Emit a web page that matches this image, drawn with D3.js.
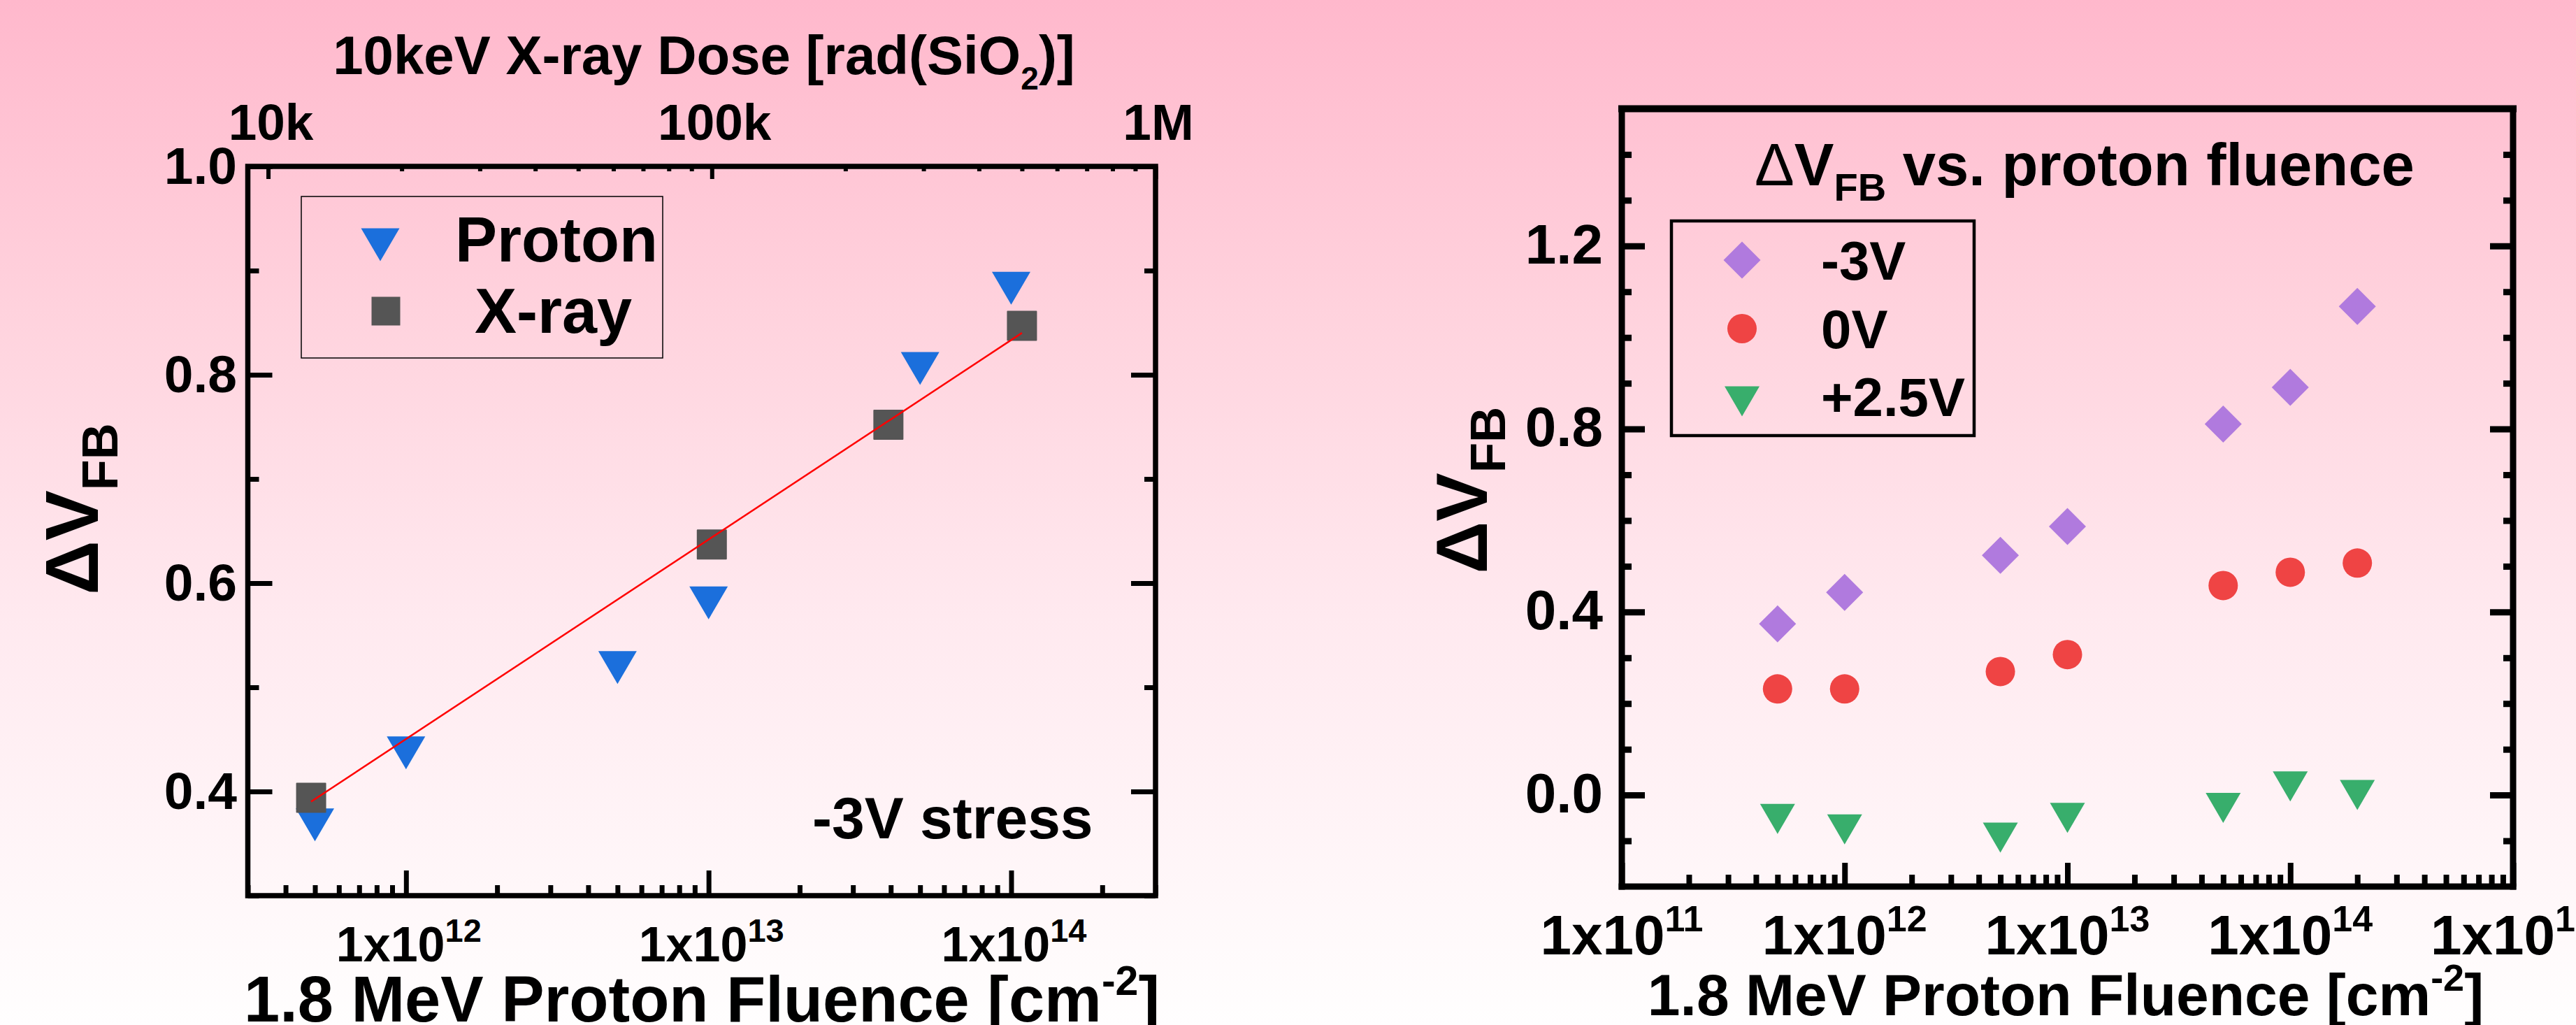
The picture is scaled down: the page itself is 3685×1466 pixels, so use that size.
<!DOCTYPE html>
<html>
<head>
<meta charset="utf-8">
<script src="https://cdn.jsdelivr.net/npm/d3@7"></script>
<style>
  body { margin: 0; }
  svg { display: block; }
  text { font-family: "Liberation Sans", Arial, sans-serif; font-weight: bold; fill: #000; }
</style>
</head>
<body>
<svg id="chart" width="3685" height="1466"></svg>
<script>
// ---- left panel: proton vs x-ray, -3V stress ----
const protonFluence = [5e11, 1e12, 5e12, 1e13, 5e13, 1e14];
const protonDVfb = [0.368, 0.437, 0.519, 0.581, 0.806, 0.883];
const xrayDose = [12500, 100000, 250000, 500000];
const xrayDVfb = [0.394, 0.637, 0.752, 0.847];
const leftFluenceTicks = [1e12, 1e13, 1e14];
const doseTicks = [1e4, 1e5, 1e6];
const doseTickLabels = ["10k", "100k", "1M"];
const leftYTicks = [0.4, 0.6, 0.8, 1.0];

// ---- right panel: bias dependence ----
const biasFluence = [5e11, 1e12, 5e12, 1e13, 5e13, 1e14, 2e14];
const dvMinus3V = [0.374, 0.443, 0.524, 0.587, 0.811, 0.891, 1.068];
const dv0V = [0.232, 0.232, 0.270, 0.307, 0.458, 0.487, 0.507];
const dvPlus2p5V = [-0.052, -0.075, -0.093, -0.050, -0.028, 0.019, 0.0];
const biasNames = ["-3V", "0V", "+2.5V"];
const rightFluenceTicks = [1e11, 1e12, 1e13, 1e14, 1e15];
const rightYTicks = [0.0, 0.4, 0.8, 1.2];

const svg = d3.select("#chart");

// pink -> white page background
const grad = svg.append("defs").append("linearGradient")
    .attr("id", "bg").attr("x1", 0).attr("y1", 0).attr("x2", 0).attr("y2", 1);
[[0, "#ffb8cc"], [0.3, "#ffd2dd"], [0.6, "#ffe9ef"], [1, "#fffefe"]]
    .forEach(s => grad.append("stop").attr("offset", s[0]).attr("stop-color", s[1]));
svg.append("rect").attr("width", 3685).attr("height", 1466).attr("fill", "url(#bg)");

// text with sub/superscript pieces
function rich(sel, parts) {
    parts.forEach(p => {
        const t = sel.append("tspan").text(p.t);
        if (p.size) t.attr("font-size", p.size);
        if (p.dy) t.attr("dy", p.dy);
        if (p.weight) t.attr("font-weight", p.weight);
    });
    return sel;
}

function markerPath(shape, a, b) {
    if (shape === "triDown") return `M${-a / 2},${-b / 2}L${a / 2},${-b / 2}L0,${b / 2}Z`;
    if (shape === "square") return `M${-a / 2},${-a / 2}h${a}v${a}h${-a}Z`;
    if (shape === "diamond") return `M0,${-a}L${a},0L0,${a}L${-a},0Z`;
    // circle
    return `M${a},0A${a},${a} 0 1,1 ${-a},0A${a},${a} 0 1,1 ${a},0Z`;
}

function tickAxis(g, axisFn, scale, values, len, sw, transform) {
    g.append("g").attr("transform", transform)
        .call(axisFn(scale).tickValues(values).tickSize(-len).tickFormat(""))
        .call(a => a.select(".domain").remove())
        .call(a => a.selectAll(".tick line").attr("stroke", "#000").attr("stroke-width", sw));
}

const isDecade = v => Math.abs(Math.log10(v) - Math.round(Math.log10(v))) < 1e-9;
const expLabel = (sel, v, big, small, shift) =>
    rich(sel, [{ t: "1x10", size: big }, { t: String(Math.round(Math.log10(v))), size: small, dy: -shift }]);

// ================= LEFT PANEL =================
const L = { x0: 354.5, x1: 1653, y0: 238, y1: 1281 };
const xL = d3.scaleLog().domain([3e11, 3e14]).range([L.x0, L.x1]);
const xDose = d3.scaleLog().domain([9e3, 1e6]).range([L.x0, L.x1]);
const yL = d3.scaleLinear().domain([0.3, 1.0]).range([L.y1, L.y0]);
const gL = svg.append("g");

const yLMinor = d3.range(3, 11).map(v => v / 10).filter(v => Math.round(v * 10) % 2 === 1);
tickAxis(gL, d3.axisLeft, yL, leftYTicks, 35, 7, `translate(${L.x0},0)`);
tickAxis(gL, d3.axisLeft, yL, yLMinor, 16, 7, `translate(${L.x0},0)`);
tickAxis(gL, d3.axisRight, yL, leftYTicks, 35, 7, `translate(${L.x1},0)`);
tickAxis(gL, d3.axisRight, yL, yLMinor, 16, 7, `translate(${L.x1},0)`);
tickAxis(gL, d3.axisBottom, xL, leftFluenceTicks, 36, 7, `translate(0,${L.y1})`);
tickAxis(gL, d3.axisBottom, xL, xL.ticks().filter(v => !isDecade(v)), 15, 7, `translate(0,${L.y1})`);
tickAxis(gL, d3.axisTop, xDose, doseTicks, 18, 6, `translate(0,${L.y0})`);
tickAxis(gL, d3.axisTop, xDose, xDose.ticks().filter(v => !isDecade(v)), 7, 6, `translate(0,${L.y0})`);

gL.append("rect").attr("x", L.x0).attr("y", L.y0)
    .attr("width", L.x1 - L.x0).attr("height", L.y1 - L.y0)
    .attr("fill", "none").attr("stroke", "#000").attr("stroke-width", 7.5);

// tick labels
gL.selectAll(".ylab").data(leftYTicks).join("text")
    .attr("x", 339).attr("y", d => yL(d)).attr("dy", "0.33em")
    .attr("text-anchor", "end").attr("font-size", 75)
    .text(d3.format(".1f"));
gL.selectAll(".xlab").data(leftFluenceTicks).join("text")
    .attr("x", d => xL(d) + 4).attr("y", 1375).attr("text-anchor", "middle")
    .each(function (d) { expLabel(d3.select(this), d, 70, 47, 28); });
gL.selectAll(".doselab").data(doseTicks).join("text")
    .attr("x", d => xDose(d) + 4).attr("y", 200).attr("text-anchor", "middle")
    .attr("font-size", 73).text((d, i) => doseTickLabels[i]);

// axis titles
rich(gL.append("text").attr("x", 1007).attr("y", 106).attr("text-anchor", "middle").attr("font-size", 78),
    [{ t: "10keV X-ray Dose [rad(SiO" }, { t: "2", size: 46, dy: 22 }, { t: ")]", size: 78, dy: -22 }]);
rich(gL.append("text").attr("x", 1004).attr("y", 1461).attr("text-anchor", "middle").attr("font-size", 92),
    [{ t: "1.8 MeV Proton Fluence [cm" }, { t: "-2", size: 59, dy: -38 }, { t: "]", size: 92, dy: 38 }]);
rich(gL.append("text").attr("transform", "translate(140,728) rotate(-90)").attr("text-anchor", "middle").attr("font-size", 108),
    [{ t: "\u0394V" }, { t: "FB", size: 72, dy: 28 }]);
gL.append("text").attr("x", 1162).attr("y", 1199).attr("font-size", 84).text("-3V stress");

// data
gL.selectAll(".proton").data(protonFluence).join("path")
    .attr("d", markerPath("triDown", 55, 47)).attr("fill", "#1b6fdc")
    .attr("transform", (d, i) => `translate(${xL(d)},${yL(protonDVfb[i])})`);
gL.selectAll(".xray").data(xrayDose).join("path")
    .attr("d", markerPath("square", 41)).attr("fill", "#555555")
    .attr("stroke", "#555555").attr("stroke-width", 2).attr("stroke-linejoin", "round")
    .attr("transform", (d, i) => `translate(${xDose(d)},${yL(xrayDVfb[i])})`);

// linear fit of x-ray data vs log(dose)
const lx = xrayDose.map(Math.log10);
const mx = d3.mean(lx), my = d3.mean(xrayDVfb);
const slope = d3.sum(lx, (v, i) => (v - mx) * (xrayDVfb[i] - my)) / d3.sum(lx, v => (v - mx) ** 2);
gL.append("path").datum(d3.extent(xrayDose))
    .attr("d", d3.line().x(d => xDose(d)).y(d => yL(my + slope * (Math.log10(d) - mx))))
    .attr("stroke", "#ff0000").attr("stroke-width", 2.5).attr("fill", "none");

// legend
gL.append("rect").attr("x", 431).attr("y", 281).attr("width", 517).attr("height", 231)
    .attr("fill", "none").attr("stroke", "#000").attr("stroke-width", 1.5);
gL.append("path").attr("d", markerPath("triDown", 55, 47)).attr("fill", "#1b6fdc")
    .attr("transform", "translate(544,350)");
gL.append("path").attr("d", markerPath("square", 41)).attr("fill", "#555555")
    .attr("transform", "translate(552,445)");
gL.append("text").attr("x", 651).attr("y", 374).attr("font-size", 90).text("Proton");
gL.append("text").attr("x", 679).attr("y", 476).attr("font-size", 90).text("X-ray");

// ================= RIGHT PANEL =================
const R = { x0: 2320, x1: 3595, y0: 155.5, y1: 1268 };
const xR = d3.scaleLog().domain([1e11, 1e15]).range([R.x0, R.x1]);
const yR = d3.scaleLinear().domain([-0.2, 1.5]).range([R.y1, R.y0]);
const gR = svg.append("g");

const yRMinor = d3.range(-1, 15).map(v => v / 10).filter(v => Math.round(v * 10) % 4 !== 0);
tickAxis(gR, d3.axisLeft, yR, rightYTicks, 33, 9, `translate(${R.x0},0)`);
tickAxis(gR, d3.axisLeft, yR, yRMinor, 14, 9, `translate(${R.x0},0)`);
tickAxis(gR, d3.axisRight, yR, rightYTicks, 33, 9, `translate(${R.x1},0)`);
tickAxis(gR, d3.axisRight, yR, yRMinor, 14, 9, `translate(${R.x1},0)`);
tickAxis(gR, d3.axisBottom, xR, rightFluenceTicks, 34, 8, `translate(0,${R.y1})`);
tickAxis(gR, d3.axisBottom, xR, xR.ticks().filter(v => !isDecade(v)), 17, 8, `translate(0,${R.y1})`);

const frame = [
    [R.x0, R.y0, R.x1, R.y0, 10], [R.x1, R.y0, R.x1, R.y1, 9],
    [R.x0, R.y1, R.x1, R.y1, 9], [R.x0, R.y0, R.x0, R.y1, 9]
];
gR.selectAll(".frame").data(frame).join("line")
    .attr("x1", d => d[0]).attr("y1", d => d[1]).attr("x2", d => d[2]).attr("y2", d => d[3])
    .attr("stroke", "#000").attr("stroke-width", d => d[4]).attr("stroke-linecap", "square");

gR.selectAll(".ylab").data(rightYTicks).join("text")
    .attr("x", 2293).attr("y", d => yR(d)).attr("dy", "0.31em")
    .attr("text-anchor", "end").attr("font-size", 80)
    .text(d3.format(".1f"));
gR.selectAll(".xlab").data(rightFluenceTicks).join("text")
    .attr("x", d => xR(d)).attr("y", 1365).attr("text-anchor", "middle")
    .each(function (d) { expLabel(d3.select(this), d, 80, 52, 33); });

rich(gR.append("text").attr("x", 2955).attr("y", 1452).attr("text-anchor", "middle").attr("font-size", 84),
    [{ t: "1.8 MeV Proton Fluence [cm" }, { t: "-2", size: 54, dy: -35 }, { t: "]", size: 84, dy: 35 }]);
rich(gR.append("text").attr("transform", "translate(2127,701) rotate(-90)").attr("text-anchor", "middle").attr("font-size", 104),
    [{ t: "\u0394V" }, { t: "FB", size: 71, dy: 26 }]);
rich(gR.append("text").attr("x", 2510).attr("y", 265).attr("font-size", 85),
    [{ t: "\u0394", weight: "normal" }, { t: "V" }, { t: "FB", size: 56, dy: 22 }, { t: " vs. proton fluence", size: 85, dy: -22 }]);

const biasSeries = [
    { name: biasNames[0], values: dvMinus3V, color: "#b07ade", shape: "diamond", a: 26.5 },
    { name: biasNames[1], values: dv0V, color: "#ef4444", shape: "circle", a: 21 },
    { name: biasNames[2], values: dvPlus2p5V, color: "#38ae6c", shape: "triDown", a: 50, b: 43 }
];

biasSeries.forEach(s => {
    gR.append("g").selectAll("path").data(biasFluence).join("path")
        .attr("d", markerPath(s.shape, s.a, s.b)).attr("fill", s.color)
        .attr("transform", (d, i) => `translate(${xR(d)},${yR(s.values[i])})`);
});

// legend
gR.append("rect").attr("x", 2391).attr("y", 316).attr("width", 433).attr("height", 307)
    .attr("fill", "none").attr("stroke", "#000").attr("stroke-width", 4.5);
const legRowY = [372, 470, 574];
const legBase = [400, 498, 595];
biasSeries.forEach((s, i) => {
    gR.append("path").attr("d", markerPath(s.shape, s.a, s.b)).attr("fill", s.color)
        .attr("transform", `translate(2492,${legRowY[i]})`);
    gR.append("text").attr("x", 2605).attr("y", legBase[i]).attr("font-size", 78).text(s.name);
});
</script>
</body>
</html>
